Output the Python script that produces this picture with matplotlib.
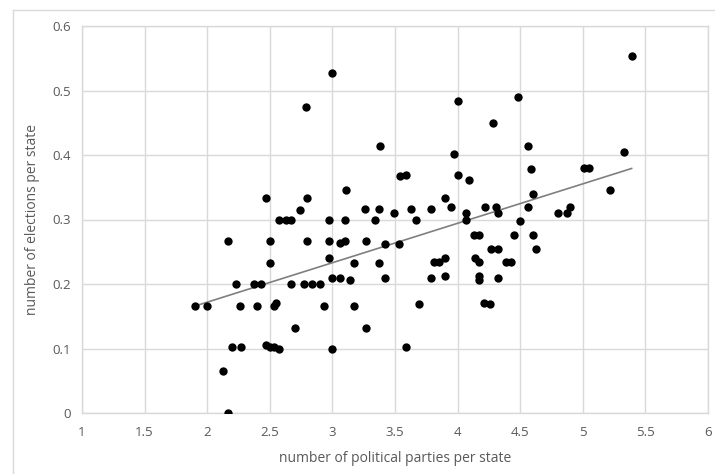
import numpy as np
import matplotlib
matplotlib.use("Agg")
import matplotlib.pyplot as plt

# parties per state (x) and elections per state (y)
parties = [
    3.00, 2.79, 2.47, 2.80, 3.11, 2.74, 3.26, 2.57, 2.63, 2.67,
    2.97, 3.10, 2.17, 2.50, 2.80, 2.97, 3.06, 3.10, 3.27, 2.50,
    2.97, 3.17, 2.23, 2.37, 2.43, 2.67, 2.77, 2.84, 2.90, 3.00,
    3.06, 3.14, 1.90, 2.00, 2.26, 2.40, 2.53, 2.55, 2.93, 3.17,
    2.70, 3.27, 2.20, 2.27, 2.47, 2.50, 2.53, 2.57, 3.00, 2.13,
    2.17,
    4.00, 4.48, 4.28, 3.38, 4.56, 3.97, 3.54, 3.59, 4.00, 4.09,
    4.59, 3.90, 4.60, 3.37, 3.63, 3.79, 3.95, 4.22, 4.31, 4.56,
    3.49, 4.07, 4.32, 3.34, 3.67, 4.07, 4.50, 3.42, 3.53, 4.13,
    4.17, 4.45, 4.60, 4.27, 4.32, 4.63, 3.37, 3.81, 3.85, 3.90,
    4.14, 4.17, 4.39, 4.43, 3.42, 3.79, 3.90, 4.17, 4.17, 4.32,
    3.69, 4.21, 4.26, 3.59,
    5.39, 5.33, 5.01, 5.05, 5.22, 4.80, 4.87, 4.90,
]
elections = [
    0.527, 0.474, 0.333, 0.333, 0.345, 0.315, 0.316, 0.300, 0.300, 0.300,
    0.300, 0.300, 0.266, 0.266, 0.266, 0.266, 0.263, 0.266, 0.266, 0.233,
    0.241, 0.233, 0.200, 0.200, 0.200, 0.200, 0.200, 0.200, 0.200, 0.209,
    0.209, 0.206, 0.166, 0.166, 0.166, 0.166, 0.166, 0.171, 0.166, 0.166,
    0.132, 0.132, 0.103, 0.103, 0.105, 0.103, 0.102, 0.099, 0.099, 0.065,
    0.000,
    0.484, 0.490, 0.449, 0.414, 0.414, 0.401, 0.367, 0.369, 0.369, 0.362,
    0.379, 0.333, 0.340, 0.316, 0.316, 0.316, 0.319, 0.319, 0.319, 0.319,
    0.310, 0.310, 0.310, 0.300, 0.300, 0.300, 0.298, 0.262, 0.262, 0.276,
    0.276, 0.276, 0.276, 0.255, 0.255, 0.255, 0.233, 0.234, 0.234, 0.241,
    0.241, 0.234, 0.234, 0.234, 0.209, 0.209, 0.212, 0.213, 0.206, 0.209,
    0.169, 0.171, 0.169, 0.103,
    0.554, 0.404, 0.380, 0.380, 0.345, 0.310, 0.310, 0.319,
]

x_ticks = [1, 1.5, 2, 2.5, 3, 3.5, 4, 4.5, 5, 5.5, 6]
y_ticks = [0, 0.1, 0.2, 0.3, 0.4, 0.5, 0.6]

x = np.array(parties)
y = np.array(elections)

# linear trendline over the data range, like Excel does
slope, icept = np.polyfit(x, y, 1)
xt = np.array([x.min(), x.max()])

txt = "#595959"
grid = "#d9d9d9"
plt.rcParams["font.family"] = ["Open Sans", "DejaVu Sans"]

fig = plt.figure(figsize=(7.15, 4.74), dpi=100)
ax = fig.add_axes([82 / 715, 1 - 413 / 474, 626 / 715, 387 / 474])

ax.plot(x, y, "o", color="black", ms=6, mew=0, zorder=3)
ax.plot(xt, slope * xt + icept, color="#7f7f7f", lw=1.2, zorder=2)

ax.set_xlim(1, 6)
ax.set_ylim(0, 0.6)
ax.set_xticks(x_ticks)
ax.set_xticklabels([f"{v:g}" for v in x_ticks])
ax.set_yticks(y_ticks)
ax.set_yticklabels([f"{v:g}" for v in y_ticks])
ax.grid(True, color=grid, lw=1)
ax.set_axisbelow(True)
for s in ax.spines.values():
    s.set_color(grid)
    s.set_linewidth(1)
ax.tick_params(length=0, labelsize=9.5, labelcolor=txt)
ax.tick_params(axis="x", pad=9)
ax.tick_params(axis="y", pad=8)

ax.set_xlabel("number of political parties per state", fontsize=10, color=txt, labelpad=9)
ax.set_ylabel("number of elections per state", fontsize=10, color=txt, labelpad=9)

# outer chart border (only left/top edges show in the screenshot)
fig.add_artist(plt.Line2D([13 / 715, 13 / 715], [0, 1 - 10 / 474], color=grid, lw=1))
fig.add_artist(plt.Line2D([13 / 715, 1], [1 - 10 / 474, 1 - 10 / 474], color=grid, lw=1))

fig.savefig("out.png", dpi=100)
